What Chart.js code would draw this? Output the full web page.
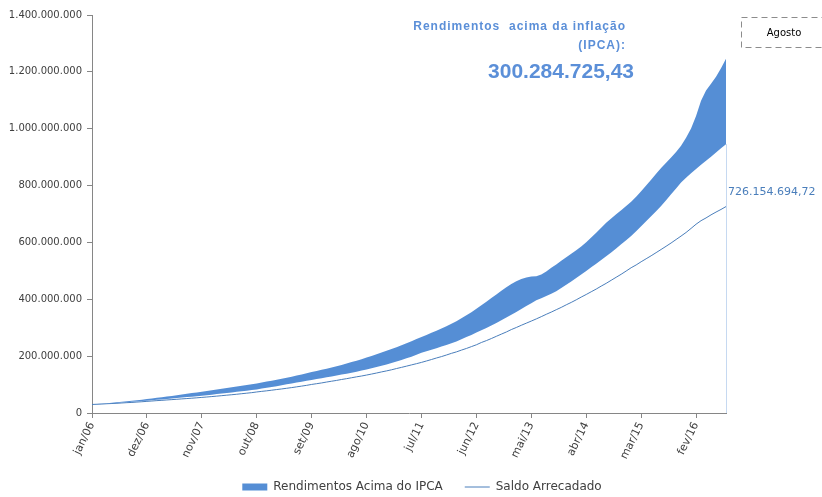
<!DOCTYPE html>
<html lang="pt-BR">
<head>
<meta charset="utf-8">
<title>Rendimentos acima do IPCA</title>
<script src="https://cdn.jsdelivr.net/npm/chart.js@4/dist/chart.umd.min.js"></script>
<style>
  html, body { margin: 0; padding: 0; background: #ffffff; }
  #grafico { display: block; }
</style>
</head>
<body>
<canvas id="grafico" width="822" height="497"></canvas>
<script>
// Meses (jan/2006 a ago/2016), rótulo a cada 11 meses no eixo
const MESES = ['jan', 'fev', 'mar', 'abr', 'mai', 'jun', 'jul', 'ago', 'set', 'out', 'nov', 'dez'];
const ANO_INICIAL = 2006;
const TOTAL_MESES = 128;
const PASSO_ROTULO_X = 11;

// Valores em milhões de reais
const saldoArrecadado = [
  30.0, 30.8, 31.5, 32.6, 33.4, 34.1, 35.3, 36.4, 37.2, 38.5, 39.6, 41.0,
  42.2, 43.5, 44.6, 45.9, 47.1, 48.3, 49.6, 50.8, 52.1, 53.4, 54.9,
  56.3, 57.8, 59.4, 61.0, 62.7, 64.3, 66.0, 67.9, 69.7, 71.6, 74.0,
  76.1, 78.0, 80.2, 82.5, 84.6, 87.0, 89.4, 92.0, 94.6, 97.3, 100.5,
  103.1, 105.8, 108.9, 111.8, 114.6, 117.9, 120.8, 124.0, 127.2, 130.1, 133.5,
  137.0, 140.6, 144.5, 148.1, 152.0, 156.4, 160.5, 164.8, 169.2, 173.5, 178.0,
  183.0, 188.1, 193.5, 198.4, 204.0, 209.8, 215.0, 221.2, 227.0, 233.5, 240.0,
  248.0, 254.6, 262.0, 269.8, 277.5, 285.0, 293.5, 300.8, 308.6, 316.0, 323.4,
  331.0, 338.9, 347.2, 355.0, 363.4, 371.5, 380.6, 389.0, 398.2, 407.8, 416.9,
  426.5, 436.0, 446.3, 456.1, 466.8, 477.5, 488.0, 499.4, 511.0, 520.8, 532.0,
  542.5, 553.0, 564.1, 575.2, 586.5, 598.0, 610.2, 622.4, 635.0, 649.3, 664.0,
  676.5, 686.2, 697.0, 706.8, 716.0, 726.15469472
];

// Saldo corrigido pelo IPCA (base da faixa)
const saldoCorrigidoIPCA = [
  30.0, 31.0, 32.0, 33.3, 34.4, 35.6, 36.9, 38.1, 39.4, 40.6, 42.0, 43.4,
  44.9, 46.3, 47.8, 49.3, 51.0, 52.6, 54.3, 55.9, 57.6, 59.3, 61.0,
  62.8, 64.6, 66.5, 68.4, 70.3, 72.3, 74.4, 76.5, 78.6, 80.8, 83.0,
  85.8, 88.6, 91.5, 94.5, 97.6, 100.7, 103.8, 107.0, 110.1, 113.3, 116.5,
  119.6, 122.4, 125.5, 128.6, 131.8, 135.0, 138.4, 141.9, 145.5, 149.2, 153.0,
  157.1, 161.6, 166.2, 171.0, 176.0, 181.3, 186.7, 192.4, 198.3, 204.5, 211.5,
  217.0, 222.4, 227.8, 233.5, 239.3, 245.0, 251.8, 259.3, 267.0, 274.8, 282.9,
  290.7, 298.8, 307.6, 316.5, 326.0, 335.8, 345.4, 355.5, 365.8, 376.0, 386.2,
  396.4, 404.0, 411.5, 419.2, 428.6, 439.8, 451.3, 463.0, 475.2, 487.5, 499.8,
  512.5, 525.4, 538.6, 551.8, 565.0, 579.0, 593.4, 607.8, 622.3, 639.0, 656.6,
  674.3, 692.2, 709.9, 727.8, 748.5, 769.3, 790.0, 810.6, 827.5, 843.0, 858.4,
  873.0, 887.5, 901.8, 916.3, 930.9, 945.6
];

// Rendimentos acima da inflação (espessura da faixa)
const rendimentosAcimaIPCA = [
  0.0, 0.3, 0.8, 1.0, 1.5, 2.0, 2.5, 3.1, 3.6, 4.4, 5.0, 5.7,
  6.3, 7.1, 7.8, 8.6, 9.2, 10.0, 10.7, 11.6, 12.4, 13.2, 14.1,
  14.8, 15.6, 16.3, 16.9, 17.6, 18.2, 18.7, 19.3, 19.9, 20.5, 21.2,
  21.5, 21.8, 22.1, 22.5, 22.9, 23.3, 23.9, 24.5, 25.4, 26.3, 27.4,
  28.4, 29.6, 30.5, 31.6, 32.8, 34.2, 35.6, 37.1, 38.7, 40.3, 42.0,
  43.7, 45.0, 46.3, 47.6, 49.0, 50.3, 51.8, 53.2, 54.5, 55.5, 55.8,
  57.6, 59.6, 61.8, 63.9, 66.2, 68.8, 71.2, 73.7, 76.6, 80.0, 83.7,
  88.3, 92.7, 96.6, 100.3, 103.6, 106.5, 108.6, 108.0, 105.2, 100.6, 93.6,
  84.6, 82.8, 86.5, 91.3, 94.2, 95.4, 96.3, 97.0, 97.3, 97.8, 100.7,
  104.5, 108.6, 112.9, 117.2, 119.2, 120.0, 120.1, 120.2, 120.5, 121.5, 123.4,
  125.9, 128.6, 131.6, 134.2, 131.8, 129.1, 128.0, 129.9, 140.3, 157.6, 186.6,
  225.0, 246.5, 256.2, 266.7, 282.1, 300.28472543
];

// Eixo Y, em milhões
const EIXO_Y_MAX = 1400;
const EIXO_Y_PASSO = 200;

const MILHAO = 1e6;
const CINZA_EIXO = '#868686';
const AZUL_FAIXA = '#558ED5';
const AZUL_LINHA = '#4A7EBB';
const AZUL_TEXTO = '#5B8FD8';

const categorias = [];
for (let i = 0; i < TOTAL_MESES; i++) {
  const ano = ANO_INICIAL + Math.floor(i / 12);
  categorias.push(MESES[i % 12] + '/' + String(ano % 100).padStart(2, '0'));
}

function formatarBR(valor, casas) {
  const partes = valor.toFixed(casas).split('.');
  const inteiro = partes[0].replace(/\B(?=(\d{3})+(?!\d))/g, '.');
  return casas ? inteiro + ',' + partes[1] : inteiro;
}

const emReais = arr => arr.map(v => v * MILHAO);

// Textos e marcações sobre o gráfico
const anotacoes = {
  id: 'anotacoes',
  beforeDatasetsDraw(chart) {
    const { ctx, scales: { x, y } } = chart;
    const ult = categorias.length - 1;
    const px = Math.round(x.getPixelForValue(ult)) + 0.5;
    ctx.save();
    ctx.strokeStyle = '#C6D9F1';
    ctx.lineWidth = 1;
    ctx.beginPath();
    ctx.moveTo(px, y.getPixelForValue(saldoCorrigidoIPCA[ult] * MILHAO));
    ctx.lineTo(px, y.getPixelForValue(0));
    ctx.stroke();
    ctx.restore();
  },
  afterDraw(chart) {
    const { ctx, scales: { x, y } } = chart;
    const ult = categorias.length - 1;
    ctx.save();

    // Rótulo do último saldo arrecadado
    ctx.fillStyle = AZUL_LINHA;
    ctx.font = '11px "DejaVu Sans"';
    ctx.textAlign = 'left';
    ctx.textBaseline = 'middle';
    ctx.fillText(formatarBR(saldoArrecadado[ult] * MILHAO, 2),
      x.getPixelForValue(ult) + 2, y.getPixelForValue(saldoArrecadado[ult] * MILHAO) - 14);

    // Destaque dos rendimentos acima da inflação
    ctx.fillStyle = AZUL_TEXTO;
    ctx.textAlign = 'right';
    ctx.font = 'bold 12px "Liberation Sans"';
    ctx.letterSpacing = '1px';
    ctx.fillText('Rendimentos  acima da inflação', 626, 27);
    ctx.fillText('(IPCA):', 626, 46);
    ctx.letterSpacing = '0px';
    ctx.font = 'bold 21px "Liberation Sans"';
    ctx.fillText(formatarBR(rendimentosAcimaIPCA[ult] * MILHAO, 2), 634, 72);

    // Caixa do mês de referência
    ctx.strokeStyle = '#8C8C8C';
    ctx.lineWidth = 1;
    ctx.setLineDash([6, 4]);
    ctx.strokeRect(741.5, 17.5, 90, 30);
    ctx.setLineDash([]);
    ctx.fillStyle = '#000000';
    ctx.textAlign = 'center';
    ctx.font = '10px "DejaVu Sans"';
    ctx.fillText('Agosto', 784, 33);

    ctx.restore();
  }
};

Chart.defaults.font.family = '"DejaVu Sans", sans-serif';
Chart.defaults.color = '#404040';

new Chart(document.getElementById('grafico'), {
  type: 'line',
  data: {
    labels: categorias,
    datasets: [
      {
        label: 'Saldo corrigido',
        data: emReais(saldoCorrigidoIPCA),
        stack: 'faixa',
        borderWidth: 0,
        borderColor: 'rgba(0,0,0,0)',
        backgroundColor: 'rgba(0,0,0,0)',
        pointRadius: 0,
        fill: false
      },
      {
        label: 'Rendimentos Acima do IPCA',
        data: emReais(rendimentosAcimaIPCA),
        stack: 'faixa',
        borderWidth: 0,
        borderColor: AZUL_FAIXA,
        backgroundColor: AZUL_FAIXA,
        pointRadius: 0,
        fill: '-1',
        pointStyle: 'rect'
      },
      {
        label: 'Saldo Arrecadado',
        data: emReais(saldoArrecadado),
        stack: 'saldo',
        borderWidth: 1,
        borderColor: AZUL_LINHA,
        backgroundColor: AZUL_LINHA,
        pointRadius: 0,
        fill: false,
        pointStyle: 'line'
      }
    ]
  },
  options: {
    responsive: false,
    animation: false,
    devicePixelRatio: 1,
    layout: { padding: { top: 15, left: 0, right: -22, bottom: -6 } },
    elements: { line: { tension: 0 } },
    plugins: {
      tooltip: { enabled: false },
      legend: {
        position: 'bottom',
        labels: {
          usePointStyle: true,
          pointStyleWidth: 25,
          boxHeight: 7,
          padding: 22,
          font: { size: 12 },
          color: '#404040',
          filter: item => item.datasetIndex !== 0
        }
      }
    },
    scales: {
      x: {
        type: 'category',
        offset: false,
        grid: { display: true, drawOnChartArea: false, drawTicks: true, tickLength: 5, color: CINZA_EIXO },
        border: { display: true, color: CINZA_EIXO },
        ticks: {
          autoSkip: false,
          maxRotation: 64,
          minRotation: 64,
          padding: 2,
          font: { size: 11 },
          color: '#404040',
          callback: (v, i) => (i % PASSO_ROTULO_X === 0 ? categorias[i] : null)
        },
        afterFit: s => {
          s.height = 46;
          // rótulos inclinados podem passar da faixa do eixo
          s._computeLabelArea = () => undefined;
        }
      },
      y: {
        stacked: true,
        min: 0,
        max: EIXO_Y_MAX * MILHAO,
        grid: { display: true, drawOnChartArea: false, drawTicks: true, tickLength: 5, color: CINZA_EIXO },
        border: { display: true, color: CINZA_EIXO },
        ticks: {
          stepSize: EIXO_Y_PASSO * MILHAO,
          padding: 5,
          font: { size: 10 },
          color: '#404040',
          callback: v => formatarBR(v, 0)
        },
        afterFit: s => { s.width = 92; }
      },
      margemDireita: {
        position: 'right',
        min: 0,
        max: 1,
        grid: { display: false },
        border: { display: false },
        ticks: { display: false },
        afterFit: s => { s.width = 118; }
      }
    }
  },
  plugins: [anotacoes]
});
</script>
</body>
</html>
